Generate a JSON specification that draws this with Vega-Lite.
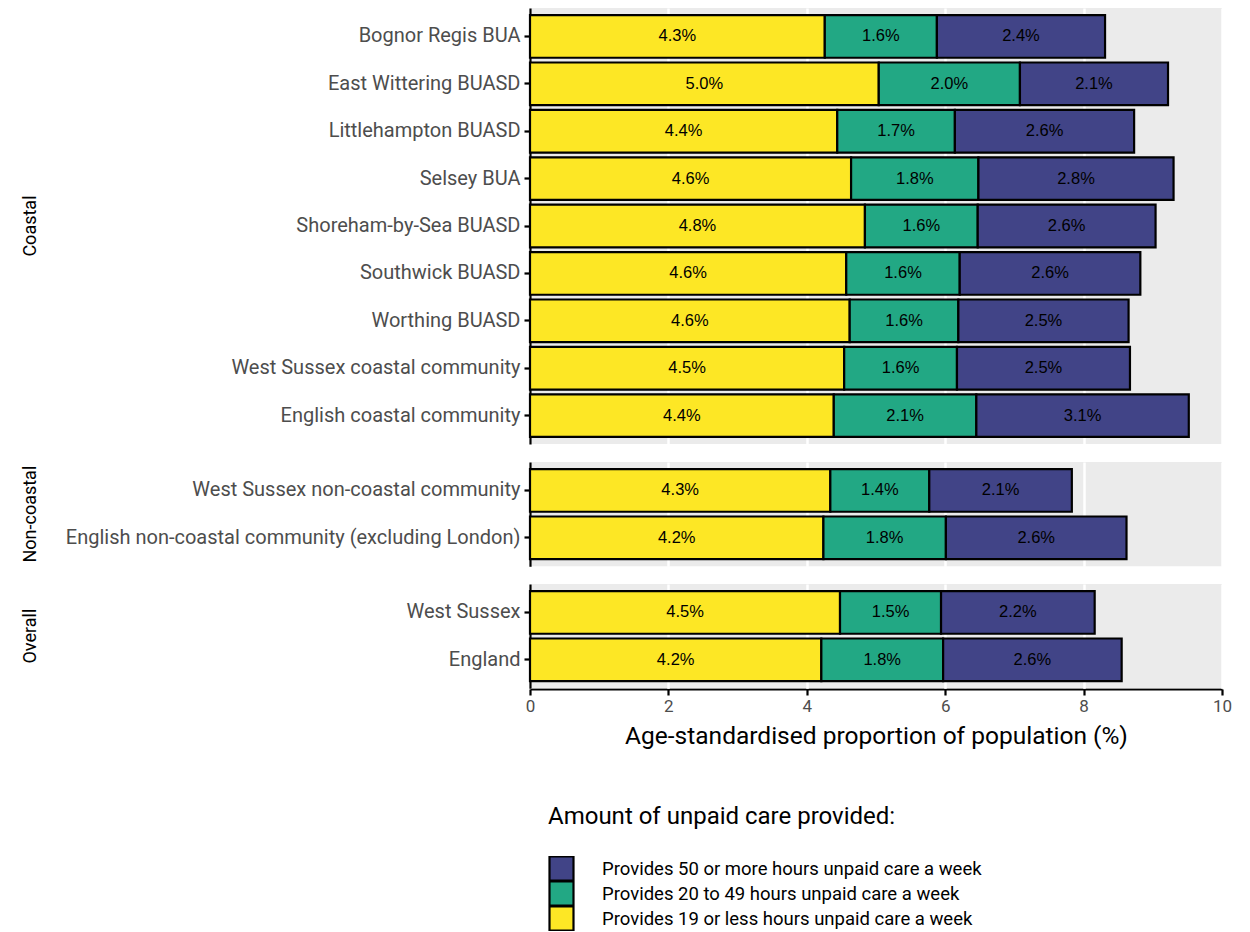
{
  "$schema": "https://vega.github.io/schema/vega-lite/v6.json",
  "background": "white",
  "padding": {"left": 22, "top": 8, "right": 10, "bottom": 0},
  "data": {
    "values": [
      {"group": "Coastal", "area": "Bognor Regis BUA", "hours": "19 or less", "pct": 4.26},
      {"group": "Coastal", "area": "Bognor Regis BUA", "hours": "20 to 49", "pct": 1.62},
      {"group": "Coastal", "area": "Bognor Regis BUA", "hours": "50 or more", "pct": 2.43},
      {"group": "Coastal", "area": "East Wittering BUASD", "hours": "19 or less", "pct": 5.04},
      {"group": "Coastal", "area": "East Wittering BUASD", "hours": "20 to 49", "pct": 2.04},
      {"group": "Coastal", "area": "East Wittering BUASD", "hours": "50 or more", "pct": 2.14},
      {"group": "Coastal", "area": "Littlehampton BUASD", "hours": "19 or less", "pct": 4.44},
      {"group": "Coastal", "area": "Littlehampton BUASD", "hours": "20 to 49", "pct": 1.7},
      {"group": "Coastal", "area": "Littlehampton BUASD", "hours": "50 or more", "pct": 2.59},
      {"group": "Coastal", "area": "Selsey BUA", "hours": "19 or less", "pct": 4.64},
      {"group": "Coastal", "area": "Selsey BUA", "hours": "20 to 49", "pct": 1.84},
      {"group": "Coastal", "area": "Selsey BUA", "hours": "50 or more", "pct": 2.82},
      {"group": "Coastal", "area": "Shoreham-by-Sea BUASD", "hours": "19 or less", "pct": 4.84},
      {"group": "Coastal", "area": "Shoreham-by-Sea BUASD", "hours": "20 to 49", "pct": 1.63},
      {"group": "Coastal", "area": "Shoreham-by-Sea BUASD", "hours": "50 or more", "pct": 2.57},
      {"group": "Coastal", "area": "Southwick BUASD", "hours": "19 or less", "pct": 4.57},
      {"group": "Coastal", "area": "Southwick BUASD", "hours": "20 to 49", "pct": 1.64},
      {"group": "Coastal", "area": "Southwick BUASD", "hours": "50 or more", "pct": 2.61},
      {"group": "Coastal", "area": "Worthing BUASD", "hours": "19 or less", "pct": 4.62},
      {"group": "Coastal", "area": "Worthing BUASD", "hours": "20 to 49", "pct": 1.57},
      {"group": "Coastal", "area": "Worthing BUASD", "hours": "50 or more", "pct": 2.46},
      {"group": "Coastal", "area": "West Sussex coastal community", "hours": "19 or less", "pct": 4.54},
      {"group": "Coastal", "area": "West Sussex coastal community", "hours": "20 to 49", "pct": 1.63},
      {"group": "Coastal", "area": "West Sussex coastal community", "hours": "50 or more", "pct": 2.5},
      {"group": "Coastal", "area": "English coastal community", "hours": "19 or less", "pct": 4.39},
      {"group": "Coastal", "area": "English coastal community", "hours": "20 to 49", "pct": 2.06},
      {"group": "Coastal", "area": "English coastal community", "hours": "50 or more", "pct": 3.07},
      {"group": "Non-coastal", "area": "West Sussex non-coastal community", "hours": "19 or less", "pct": 4.34},
      {"group": "Non-coastal", "area": "West Sussex non-coastal community", "hours": "20 to 49", "pct": 1.43},
      {"group": "Non-coastal", "area": "West Sussex non-coastal community", "hours": "50 or more", "pct": 2.06},
      {"group": "Non-coastal", "area": "English non-coastal community (excluding London)", "hours": "19 or less", "pct": 4.24},
      {"group": "Non-coastal", "area": "English non-coastal community (excluding London)", "hours": "20 to 49", "pct": 1.77},
      {"group": "Non-coastal", "area": "English non-coastal community (excluding London)", "hours": "50 or more", "pct": 2.61},
      {"group": "Overall", "area": "West Sussex", "hours": "19 or less", "pct": 4.48},
      {"group": "Overall", "area": "West Sussex", "hours": "20 to 49", "pct": 1.46},
      {"group": "Overall", "area": "West Sussex", "hours": "50 or more", "pct": 2.22},
      {"group": "Overall", "area": "England", "hours": "19 or less", "pct": 4.21},
      {"group": "Overall", "area": "England", "hours": "20 to 49", "pct": 1.76},
      {"group": "Overall", "area": "England", "hours": "50 or more", "pct": 2.58}
    ]
  },
  "transform": [
    {"stack": "pct", "groupby": ["area"], "sort": [{"field": "hours", "order": "ascending"}], "as": ["start", "end"]},
    {"calculate": "(datum.start + datum.end) / 2", "as": "mid"},
    {"calculate": "format(datum.pct, '.1f') + '%'", "as": "label"}
  ],
  "facet": {
    "row": {
      "field": "group",
      "type": "nominal",
      "sort": ["Coastal", "Non-coastal", "Overall"],
      "header": {
        "title": null,
        "labelAngle": -90,
        "labelOrient": "left",
        "labelFont": "Roboto",
        "labelFontSize": 18,
        "labelColor": "black",
        "labelPadding": 16
      }
    }
  },
  "spacing": 17,
  "resolve": {"scale": {"y": "independent"}},
  "spec": {
    "width": 692,
    "height": {"step": 47.4},
    "encoding": {
      "y": {
        "field": "area",
        "type": "nominal",
        "title": null,
        "sort": [
          "Bognor Regis BUA", "East Wittering BUASD", "Littlehampton BUASD", "Selsey BUA",
          "Shoreham-by-Sea BUASD", "Southwick BUASD", "Worthing BUASD",
          "West Sussex coastal community", "English coastal community",
          "West Sussex non-coastal community", "English non-coastal community (excluding London)",
          "West Sussex", "England"
        ],
        "scale": {"paddingInner": 0.1, "paddingOuter": 0.15},
        "axis": {"labelLimit": 0, "labelFontSize": 20, "labelColor": "#4d4d4d"}
      }
    },
    "layer": [
      {
        "mark": {"type": "bar", "stroke": "black", "strokeWidth": 2.2},
        "encoding": {
          "x": {
            "field": "start",
            "type": "quantitative",
            "title": "Age-standardised proportion of population (%)",
            "scale": {"domain": [0, 10], "nice": false},
            "axis": {
              "values": [0, 2, 4, 6, 8, 10],
              "format": "d",
              "labelFlush": false,
              "labelFontSize": 17,
              "labelColor": "#4d4d4d",
              "labelPadding": 3,
              "tickSize": 6,
              "titleFontSize": 24.5,
              "titlePadding": 10
            }
          },
          "x2": {"field": "end"},
          "color": {
            "field": "hours",
            "type": "nominal",
            "scale": {
              "domain": ["50 or more", "20 to 49", "19 or less"],
              "range": ["#414487", "#22a884", "#fde725"]
            },
            "legend": {
              "title": "Amount of unpaid care provided:",
              "labelExpr": "'Provides ' + datum.label + ' hours unpaid care a week'",
              "orient": "none",
              "legendX": 18,
              "legendY": 797
            }
          }
        }
      },
      {
        "mark": {"type": "text", "font": "Liberation Sans", "fontSize": 16.5, "color": "black"},
        "encoding": {
          "x": {"field": "mid", "type": "quantitative"},
          "text": {"field": "label"}
        }
      }
    ]
  },
  "config": {
    "font": "Roboto",
    "view": {"fill": "#ebebeb", "stroke": null},
    "header": {"labelFontSize": 18, "labelFont": "Roboto", "labelColor": "black"},
    "axisY": {
      "domainColor": "black",
      "domainWidth": 2.2,
      "tickColor": "black",
      "tickWidth": 2.2,
      "tickSize": 6,
      "labelColor": "#4d4d4d",
      "labelFont": "Roboto",
      "labelFontSize": 20,
      "labelPadding": 4,
      "grid": false
    },
    "axisX": {
      "domainColor": "black",
      "domainWidth": 2.2,
      "tickColor": "black",
      "tickWidth": 2.2,
      "labelColor": "#4d4d4d",
      "labelFont": "Roboto",
      "grid": true,
      "gridColor": "white",
      "gridWidth": 2.5,
      "titleFont": "Roboto",
      "titleFontWeight": "normal",
      "titleColor": "black"
    },
    "legend": {
      "titleFont": "Roboto",
      "titleFontSize": 24,
      "titleFontWeight": "normal",
      "titleColor": "black",
      "titlePadding": 27,
      "titleLimit": 0,
      "labelFont": "Roboto",
      "labelFontSize": 18.5,
      "labelColor": "black",
      "labelLimit": 0,
      "labelOffset": 27,
      "symbolType": "square",
      "symbolSize": 576,
      "symbolStrokeColor": "black",
      "symbolStrokeWidth": 2.2,
      "clipHeight": 25,
      "rowPadding": 0
    }
  }
}
